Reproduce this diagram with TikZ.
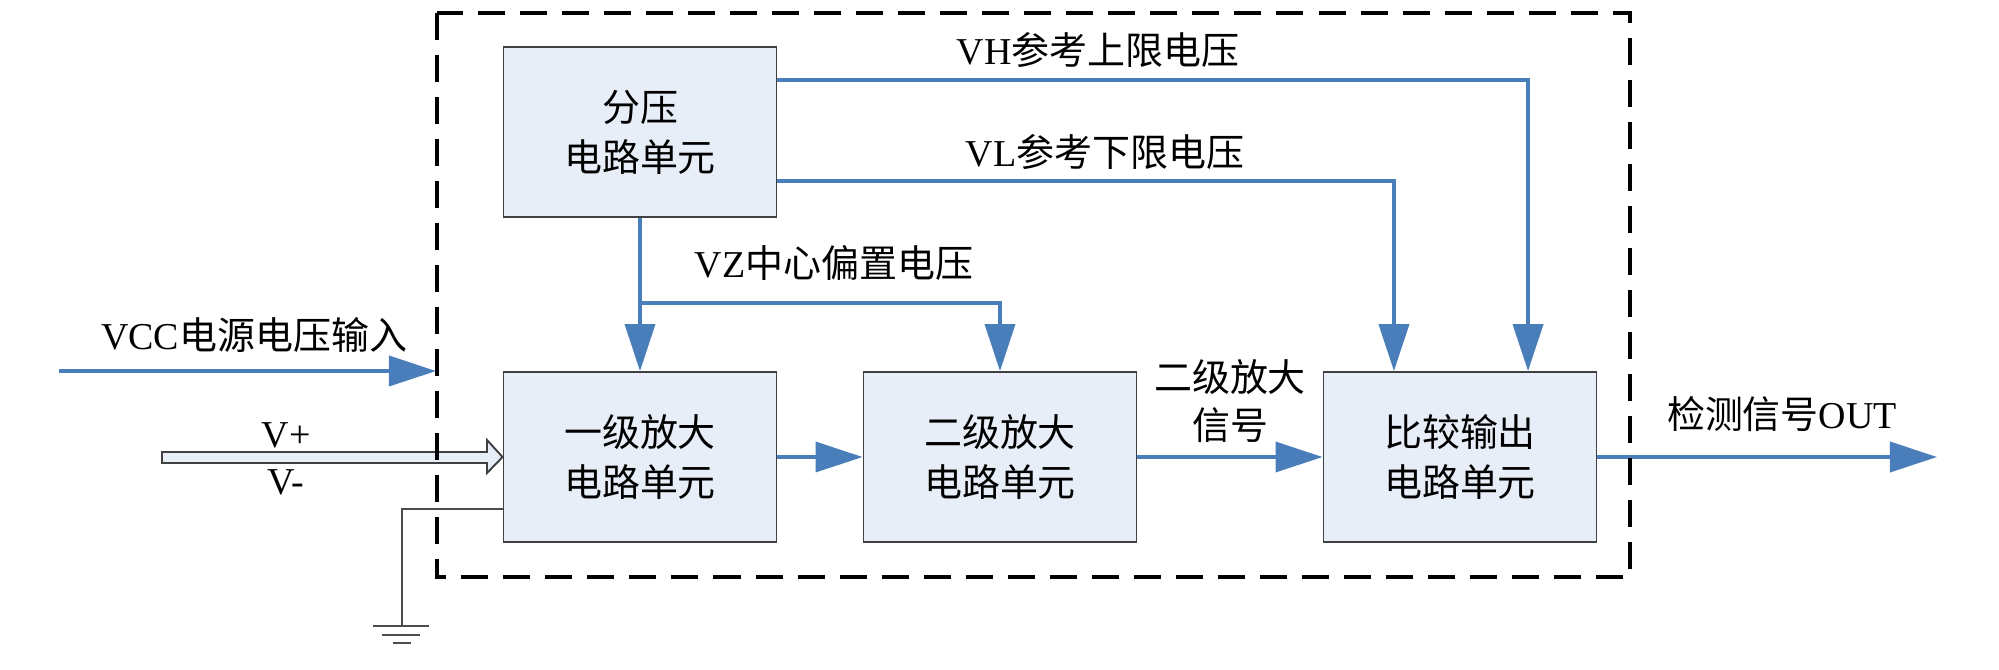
\documentclass[tikz,border=0pt]{standalone}
\usepackage{fontspec}
\setmainfont{Liberation Serif}
\newfontfamily\cjk{Noto Sans CJK SC}
\usetikzlibrary{arrows.meta}
\definecolor{sigblue}{RGB}{74,126,187}
\definecolor{boxfill}{RGB}{232,238,247}
\definecolor{boxline}{RGB}{64,64,64}

\begin{document}
\begin{tikzpicture}[x=0.01cm,y=-0.01cm,
  font=\fontsize{10.8}{14.2}\selectfont,
  unit/.style={draw=boxline,line width=0.5pt,fill=boxfill,minimum width=2.73cm,minimum height=1.70cm,align=center,inner sep=0pt,font=\fontsize{10.8}{14.2}\selectfont\cjk},
  sig/.style={draw=sigblue,line width=1.05pt,-{Triangle[length=0.47cm,width=0.30cm]}},
  hollow/.style={draw=boxline,line width=0.55pt,fill=boxfill},
  gnd/.style={draw=black!70,line width=0.55pt}]
\useasboundingbox (0,0) rectangle (1999,669);

\node[unit] (fenya) at (640,132) {分压\\电路单元};
\node[unit] (yiji) at (640,457) {一级放大\\电路单元};
\node[unit] (erji) at (1000,457) {二级放大\\电路单元};
\node[unit] (bijiao) at (1460,457) {比较输出\\电路单元};

\coordinate (vz) at (640,303);
\coordinate (vccin) at (59,371);
\coordinate (vccend) at (436,371);
\coordinate (out) at (1937,457);
\coordinate (g) at (402,626);

% reference voltages
\draw[sig] ([yshift=0.52cm]fenya.east) -| ([xshift=0.68cm]bijiao.north);
\draw[sig] ([yshift=-0.49cm]fenya.east) -| ([xshift=-0.66cm]bijiao.north);
\draw[sig] (fenya) -- (yiji);
\draw[sig] (vz) -| (erji);

% signal chain
\draw[sig] (yiji) -- (erji);
\draw[sig] (erji) -- (bijiao);
\draw[sig] (bijiao) -- (out);
\draw[sig] (vccin) -- (vccend);
\draw[hollow] (162,452) -- (487,452) -- (487,440) -- (yiji.west) -- (487,473) -- (487,463) -- (162,463) -- cycle;

% ground
\draw[gnd] ([yshift=0.34cm]yiji.south west) -| (g);
\draw[gnd] (373,626) -- (429,626) (382,635) -- (420,635) (393,643) -- (411,643);

\draw[line width=1.05pt,dash pattern=on 0.27cm off 0.15cm] (437,13) rectangle (1630,577);

\node (vh) at (1098,50) {VH{\cjk 参考上限电压}};
\node (vl) at (1105,152) {VL{\cjk 参考下限电压}};
\node (vzl) at (834,263) {VZ{\cjk 中心偏置电压}};
\node (vcc) at (254,335) {VCC{\cjk 电源电压输入}};
\node (vp) at (286,435) {V+};
\node (vm) at (286,482) {V-};
\node[align=center,font=\fontsize{10.8}{13.6}\selectfont\cjk] (amp2) at (1230,401) {二级放大\\信号};
\node (det) at (1782,414) {{\cjk 检测信号}OUT};

\end{tikzpicture}
\end{document}
